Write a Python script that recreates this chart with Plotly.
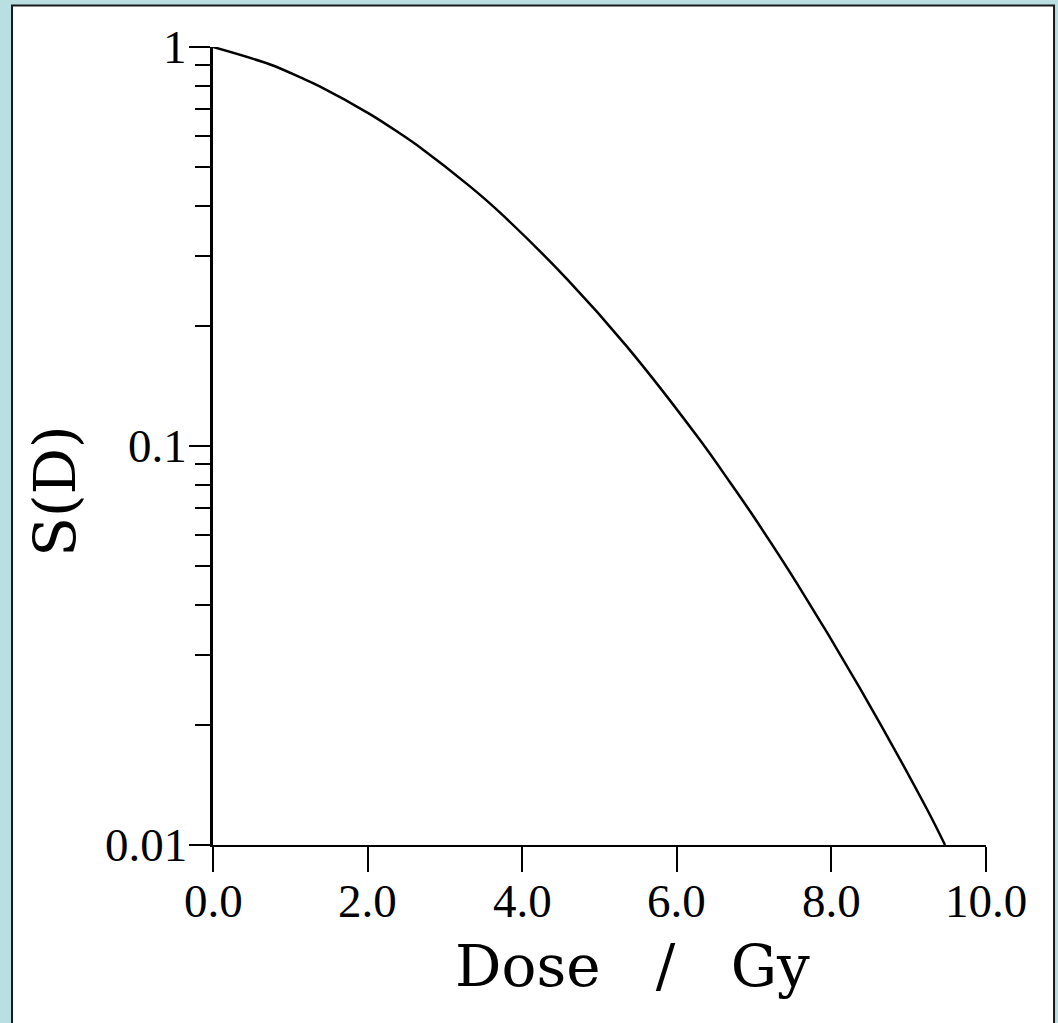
import math
import plotly.graph_objects as go

# survival curve
dose = [0.0, 0.74, 1.13, 1.38, 2.03, 2.42, 2.68, 3.32, 3.71, 4.58,
        5.35, 6.30, 6.69, 6.95, 7.55, 8.37, 9.23, 9.47]
survival = [1.0, 0.904, 0.839, 0.797, 0.679, 0.607, 0.560, 0.448, 0.385, 0.262,
            0.178, 0.1035, 0.081, 0.0685, 0.0454, 0.0247, 0.01236, 0.0100]

x_ticks = [0, 2, 4, 6, 8, 10]
x_labels = ["0.0", "2.0", "4.0", "6.0", "8.0", "10.0"]
y_ticks = [0.01, 0.1, 1]
y_labels = ["0.01", "0.1", "1"]
y_minor = [m * 10 ** e for e in (-2, -1) for m in range(2, 10)]

tick_font = dict(family="Liberation Serif", size=47, color="black")
title_font = dict(family="DejaVu Serif", size=58, color="black")
nb = "\u00a0"

fig = go.Figure()
fig.add_trace(go.Scatter(x=dose, y=survival, mode="lines",
                         line=dict(color="black", width=2.5, shape="spline", smoothing=1.0),
                         cliponaxis=False, showlegend=False))

annotations = []
for v, t in zip(x_ticks, x_labels):
    annotations.append(dict(text=t, x=v, y=-0.0702, xref="x", yref="paper",
                            showarrow=False, font=tick_font,
                            xanchor="center", yanchor="middle"))
for v, t in zip(y_ticks, y_labels):
    annotations.append(dict(text=t, x=-0.031, y=math.log10(v), xref="paper", yref="y",
                            showarrow=False, font=tick_font,
                            xanchor="right", yanchor="middle"))
annotations.append(dict(text="Dose" + nb * 3 + "/" + nb * 3 + "Gy",
                        x=(632 - 213) / 773, y=(845 - 966) / 797.5,
                        xref="paper", yref="paper", showarrow=False, font=title_font,
                        xanchor="center", yanchor="middle"))
annotations.append(dict(text="S(D)", x=(55 - 213) / 773, y=(845 - 491) / 797.5,
                        xref="paper", yref="paper", showarrow=False, font=title_font,
                        textangle=-90, xanchor="center", yanchor="middle"))

fig.update_layout(
    width=1058, height=1023,
    margin=dict(l=213, r=72, t=47, b=178),
    paper_bgcolor="#b9dfe3",
    plot_bgcolor="white",
    xaxis=dict(range=[0, 10], tickvals=x_ticks, showticklabels=False,
               ticks="outside", ticklen=25, tickwidth=2, tickcolor="black",
               showline=True, linewidth=2, linecolor="black",
               showgrid=False, zeroline=False),
    yaxis=dict(type="log", range=[-2, 0], tickvals=y_ticks, showticklabels=False,
               ticks="outside", ticklen=21, tickwidth=2, tickcolor="black",
               showline=True, linewidth=3, linecolor="black",
               showgrid=False, zeroline=False,
               minor=dict(tickvals=y_minor, ticks="outside", ticklen=15,
                          tickwidth=2, tickcolor="black", showgrid=False)),
    shapes=[dict(type="rect", xref="paper", yref="paper",
                 x0=-0.260, x1=1.088, y0=-0.24, y1=1.052,
                 fillcolor="white", line=dict(color="#1a1a1a", width=2),
                 layer="below")],
    annotations=annotations,
)

fig.write_html("out.html", config={"displayModeBar": False},
               post_script="document.body.style.margin='0';")
